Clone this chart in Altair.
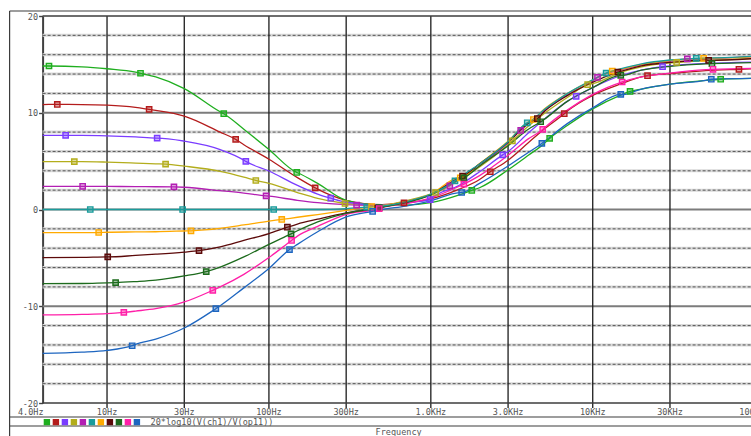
import altair as alt
import pandas as pd

# ---- frequency grid (Hz) shared by every trace ----
freq_grid = [4, 7, 10, 15, 20, 30, 50, 70, 100, 150, 200, 300, 500, 700, 1000,
             1500, 2000, 3000, 4000, 5000, 7000, 10000, 15000, 20000, 30000, 50000, 100000]

trace_names = ["b+15", "b+11", "b+7.7", "b+5", "b+2.4", "b0",
               "b-2.4", "b-5", "b-7.7", "b-11", "b-15"]
trace_colors = ["#1fae1f", "#b41c1c", "#7a3cff", "#b3ad1c", "#b31fb3", "#1a9c9c",
                "#ffaa00", "#5c0a0a", "#1d6b1d", "#ff1fa8", "#1e66c0"]

# gain in dB at each grid frequency
gain_bp15 = [14.83, 14.75, 14.55, 14.2, 13.7, 12.5, 10.1, 8.3, 6.2, 3.8, 2.7, 0.95,
             0.45, 0.45, 0.7, 1.5, 2.25, 4.1, 5.6, 6.8, 8.7, 10.4, 11.85, 12.45, 12.95, 13.35, 13.55]
gain_bp11 = [10.85, 10.85, 10.78, 10.55, 10.25, 9.66, 8.0, 6.7, 5.2, 3.3, 2.1, 0.95,
             0.5, 0.7, 1.1, 2.1, 3.1, 5.1, 6.9, 8.3, 10.2, 11.8, 13.0, 13.7, 14.05, 14.35, 14.55]
gain_bp8 = [7.67, 7.67, 7.62, 7.5, 7.38, 7.07, 6.2, 5.1, 3.98, 2.5, 1.6, 0.75,
            0.45, 0.7, 1.1, 2.5, 3.9, 6.0, 7.9, 9.3, 11.2, 12.6, 13.85, 14.4, 14.85, 15.1, 15.25]
gain_bp5 = [4.95, 4.95, 4.9, 4.8, 4.72, 4.48, 3.95, 3.35, 2.69, 1.75, 1.15, 0.6,
            0.45, 0.9, 1.6, 3.1, 4.4, 6.7, 8.6, 9.9, 11.6, 13.0, 14.2, 14.75, 15.15, 15.4, 15.6]
gain_bp2 = [2.38, 2.4, 2.38, 2.37, 2.35, 2.3, 1.95, 1.7, 1.38, 0.95, 0.7, 0.5,
            0.4, 0.85, 1.55, 3.1, 4.5, 6.9, 8.9, 10.2, 11.9, 13.3, 14.45, 14.95, 15.35, 15.6, 15.8]
gain_b0 = [0, 0, 0, 0, 0, 0, 0, 0, 0, 0, 0, 0.1,
           0.35, 0.8, 1.6, 3.3, 4.7, 7.0, 9.0, 10.3, 12.0, 13.4, 14.55, 15.05, 15.45, 15.65, 15.85]
gain_bm2 = [-2.38, -2.38, -2.35, -2.32, -2.3, -2.22, -1.95, -1.6, -1.2, -0.8, -0.52, -0.1,
            0.4, 0.8, 1.6, 3.3, 4.75, 7.05, 9.05, 10.35, 12.0, 13.4, 14.5, 15.0, 15.4, 15.63, 15.8]
gain_bm5 = [-4.97, -4.95, -4.9, -4.75, -4.62, -4.4, -3.87, -3.2, -2.49, -1.5, -1.0, -0.35,
            0.25, 0.75, 1.55, 3.3, 4.7, 6.95, 8.9, 10.1, 11.8, 13.15, 14.3, 14.85, 15.2, 15.45, 15.6]
gain_bm8 = [-7.67, -7.65, -7.58, -7.45, -7.3, -6.87, -5.95, -4.9, -3.6, -2.2, -1.28, -0.4,
            0.25, 0.7, 1.5, 3.1, 4.5, 6.6, 8.3, 9.3, 11.2, 12.6, 13.85, 14.4, 14.8, 15.05, 15.2]
gain_bm11 = [-10.9, -10.85, -10.77, -10.5, -10.25, -9.56, -8.0, -6.7, -4.97, -2.75, -1.75, -0.5,
             0.2, 0.6, 1.2, 2.4, 3.5, 5.6, 7.3, 8.4, 10.3, 11.9, 13.15, 13.7, 14.1, 14.45, 14.6]
gain_bm15 = [-14.88, -14.75, -14.57, -13.95, -13.4, -12.25, -9.95, -8.1, -6.1, -3.6, -2.3, -0.77,
             0.0, 0.35, 0.9, 1.75, 2.7, 4.5, 5.9, 7.0, 8.9, 10.5, 11.85, 12.45, 12.95, 13.35, 13.55]

# marker points on each trace: (frequency Hz, gain dB)
mk_bp15 = [(4.38, 14.83), (16.1, 14.08), (52.6, 9.9), (148.5, 3.83), (1790, 1.97),
           (5420, 7.35), (17000, 12.2), (61700, 13.46)]
mk_bp11 = [(4.93, 10.86), (18.2, 10.35), (62.3, 7.25), (193, 2.24), (683, 0.68),
           (2330, 3.9), (6670, 9.9), (21800, 13.83), (80000, 14.49)]
mk_bp8 = [(5.55, 7.67), (20.4, 7.38), (72, 4.97), (241, 1.17), (990, 1.03),
          (2780, 5.65), (7900, 11.7), (27000, 14.76)]
mk_bp5 = [(6.28, 4.95), (23, 4.69), (83, 3.0), (295, 0.62), (1070, 1.76),
          (3190, 7.1), (9300, 12.9), (33000, 15.2)]
mk_bp2 = [(7.07, 2.4), (25.9, 2.34), (96, 1.41), (348, 0.45), (1310, 2.45),
          (3590, 8.18), (10700, 13.66), (38400, 15.56)]
mk_b0 = [(7.88, 0.0), (29.3, 0.0), (107, 0.0), (402, 0.25), (1410, 2.96),
         (3940, 8.96), (12100, 14.1), (43600, 15.63)]
mk_bm2 = [(8.88, -2.38), (33, -2.2), (120, -1.03), (431, 0.3), (1520, 3.27),
          (4300, 9.3), (13200, 14.3), (48400, 15.63)]
mk_bm5 = [(10.1, -4.9), (37, -4.25), (130, -1.83), (470, 0.15), (1570, 3.45),
          (4550, 9.4), (14300, 14.2), (52000, 15.42)]
mk_bm8 = [(11.3, -7.56), (41, -6.42), (137, -2.52), (480, 0.2), (1600, 3.27),
          (4770, 9.07), (14900, 13.87), (54500, 15.07)]
mk_bm11 = [(12.7, -10.63), (45, -8.35), (138, -3.2), (480, 0.1), (1600, 2.62),
           (4910, 8.28), (15200, 13.18), (55300, 14.49)]
mk_bm15 = [(14.3, -14.08), (47, -10.25), (134, -4.14), (437, -0.2), (1550, 1.76),
           (4850, 6.83), (14900, 11.9), (54000, 13.46)]

gains = [gain_bp15, gain_bp11, gain_bp8, gain_bp5, gain_bp2, gain_b0,
         gain_bm2, gain_bm5, gain_bm8, gain_bm11, gain_bm15]
markers = [mk_bp15, mk_bp11, mk_bp8, mk_bp5, mk_bp2, mk_b0,
           mk_bm2, mk_bm5, mk_bm8, mk_bm11, mk_bm15]

# axis tick values / labels
y_ticks = [-20, -10, 0, 10, 20]
y_major = [-10, 0, 10]
y_minor = [-18, -16, -14, -12, -8, -6, -4, -2, 2, 4, 6, 8, 12, 14, 16, 18]
y_edges = [-20, 20]
x_grid = [10, 30, 100, 300, 1000, 3000, 10000, 30000]
x_tick_freqs = [10, 30, 100, 300, 1000, 3000, 10000, 30000, 100000]
x_tick_labels = ["10Hz", "30Hz", "100Hz", "300Hz", "1.0KHz", "3.0KHz", "10KHz", "30KHz", "100KHz"]
x_first_freq = [4]
x_first_label = ["4.0Hz"]

# ---- tables ----
line_rows, mark_rows = [], []
for name, g, mk in zip(trace_names, gains, markers):
    for f, v in zip(freq_grid, g):
        line_rows.append({"trace": name, "f": f, "db": v})
    for f, v in mk:
        line_rows.append({"trace": name, "f": f, "db": v})
        mark_rows.append({"trace": name, "f": f, "db": v})
lines_df = (pd.DataFrame(line_rows)
            .drop_duplicates(subset=["trace", "f"])
            .sort_values(["trace", "f"]))
marks_df = pd.DataFrame(mark_rows)

W, H = 708.4, 387
FONT = "DejaVu Sans Mono"
TXT = "#555555"

xs = alt.Scale(type="log", domain=[4, 94970])
ys = alt.Scale(domain=[-20, 20], nice=False, zero=False)
y_axis = alt.Axis(
    values=y_ticks, labelExpr="datum.value + ''",
    labelFont=FONT, labelFontSize=8.5, labelColor=TXT, labelPadding=1,
    tickSize=4, tickColor="#404040", tickWidth=1.4,
    domainColor="#404040", domainWidth=2, grid=False, title=None)
X = alt.X("f:Q", scale=xs, axis=None)
Y = alt.Y("db:Q", scale=ys, axis=y_axis)

def hrules(vals):
    return alt.Chart(pd.DataFrame({"db": vals})).encode(
        y=Y, x=alt.value(0), x2=alt.value(W))

minor_band = hrules(y_minor).mark_rule(color="#d9d9d9", strokeWidth=3)
minor_dash = hrules(y_minor).mark_rule(color="#555555", strokeWidth=1, strokeDash=[3, 2])
major = hrules(y_major).mark_rule(color="#7c7c7c", strokeWidth=2)
edges = hrules(y_edges).mark_rule(color="#3c3c3c", strokeWidth=1.6)

vgrid = alt.Chart(pd.DataFrame({"f": x_grid})).mark_rule(
    color="#1c1c1c", strokeWidth=1.3).encode(
    x=X, y=alt.value(0), y2=alt.value(H + 5))

color_scale = alt.Scale(domain=trace_names, range=trace_colors)
legend = alt.Legend(
    orient="none", legendX=0.8, legendY=402.5, direction="horizontal",
    columns=len(trace_names), title=None, labelExpr="''", labelFontSize=1,
    labelOffset=0, symbolType="square", symbolSize=25, symbolStrokeWidth=1.4,
    symbolFillColor="#dddddd", columnPadding=-3.0, padding=0, symbolOffset=0)

curves = alt.Chart(lines_df).mark_line(
    interpolate="monotone", strokeWidth=1.3).encode(
    x=X, y=Y,
    color=alt.Color("trace:N", scale=color_scale, legend=legend),
    detail="trace:N")

points = alt.Chart(marks_df).mark_point(
    shape="square", size=28, filled=False, strokeWidth=1.4, opacity=1).encode(
    x=X, y=Y,
    stroke=alt.Stroke("trace:N", scale=color_scale, legend=None),
    fill=alt.Fill("trace:N", scale=color_scale, legend=None),
    fillOpacity=alt.value(0.4))

xlabels = alt.Chart(pd.DataFrame({"f": x_tick_freqs, "t": x_tick_labels})).mark_text(
    font=FONT, fontSize=8.5, color=TXT, align="center", baseline="middle").encode(
    x=X, y=alt.value(H + 8.5), text="t:N")
xlabel0 = alt.Chart(pd.DataFrame({"f": x_first_freq, "t": x_first_label})).mark_text(
    font=FONT, fontSize=8.5, color=TXT, align="right", baseline="middle", dx=1).encode(
    x=X, y=alt.value(H + 9), text="t:N")

# frame around the plot and the legend band
frame = alt.Chart(pd.DataFrame({"k": [0]})).mark_rule(
    color="#3c3c3c", strokeWidth=1.2).encode(
    x=alt.value(-33), x2=alt.value(W), y=alt.value(-5))
band1 = alt.Chart(pd.DataFrame({"k": [0]})).mark_rule(
    color="#3c3c3c", strokeWidth=1.2).encode(
    x=alt.value(-33), x2=alt.value(W), y=alt.value(401))
band2 = alt.Chart(pd.DataFrame({"k": [0]})).mark_rule(
    color="#3c3c3c", strokeWidth=1.2).encode(
    x=alt.value(-33), x2=alt.value(W), y=alt.value(410))
left = alt.Chart(pd.DataFrame({"k": [0]})).mark_rule(
    color="#3c3c3c", strokeWidth=1.2).encode(
    x=alt.value(-33), y=alt.value(-5), y2=alt.value(420))

trace_label = alt.Chart(pd.DataFrame({"t": ["20*log10(V(ch1)/V(op11))"]})).mark_text(
    font=FONT, fontSize=8.5, color=TXT, align="left", baseline="middle").encode(
    x=alt.value(108), y=alt.value(406), text="t:N")
freq_title = alt.Chart(pd.DataFrame({"t": ["Frequency"]})).mark_text(
    font=FONT, fontSize=8.5, color=TXT, align="center", baseline="middle").encode(
    x=alt.value(356), y=alt.value(416), text="t:N")

chart = alt.layer(
    minor_band, minor_dash, major, vgrid, edges, curves, points,
    xlabels, xlabel0, frame, band1, band2, left, trace_label, freq_title
).properties(
    width=W, height=H,
    autosize=alt.AutoSizeParams(type="none"),
    padding={"left": 42.6, "top": 16, "right": 0, "bottom": 33},
    background="white",
).configure_view(stroke=None)

chart.save("out.html", embed_options={"renderer": "svg", "actions": False})
